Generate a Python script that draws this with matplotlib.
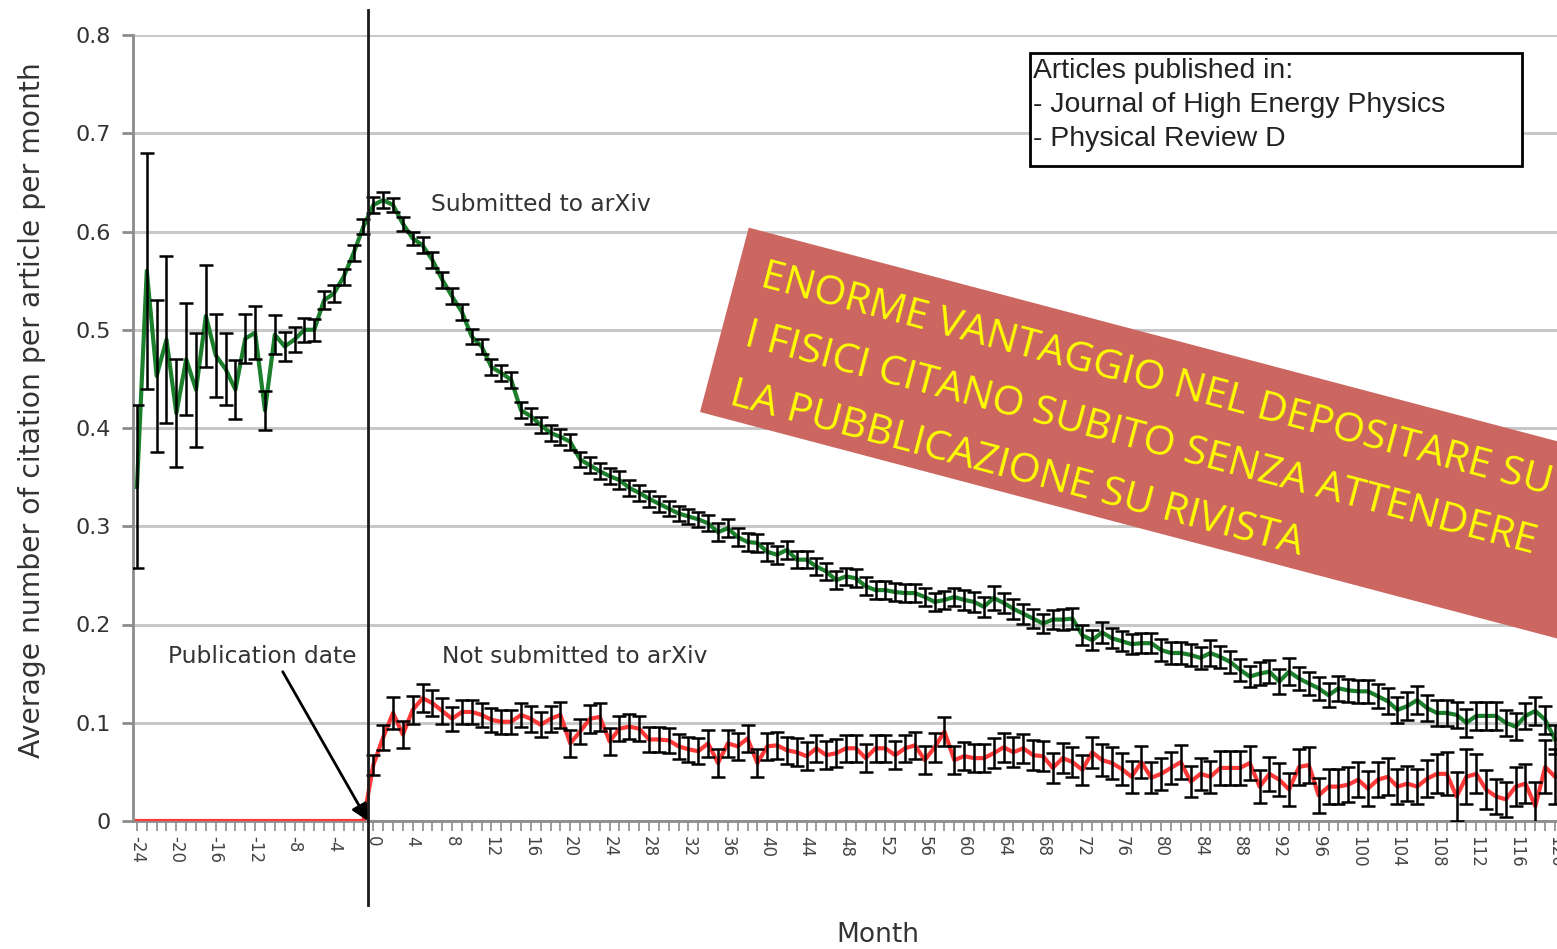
import numpy as np
import matplotlib
matplotlib.use("Agg")
import matplotlib.pyplot as plt
from matplotlib.patches import Rectangle

# months since publication
months = np.arange(-24, 121)
tick_months = list(range(-24, 121, 4))

# submitted to arXiv (green), months -24..-1 and 0..120
green_pre = [0.34, 0.56, 0.453, 0.49, 0.415, 0.47, 0.439, 0.514, 0.474, 0.46,
             0.439, 0.491, 0.497, 0.418, 0.495, 0.483, 0.49, 0.50, 0.50, 0.53,
             0.537, 0.554, 0.578, 0.605]
green_pre_err = [0.083, 0.12, 0.077, 0.085, 0.055, 0.057, 0.058, 0.052, 0.042, 0.037,
                 0.03, 0.025, 0.027, 0.02, 0.02, 0.015, 0.013, 0.012, 0.011, 0.009,
                 0.009, 0.008, 0.008, 0.008]
green_post = [0.627, 0.632, 0.627, 0.608, 0.593, 0.586, 0.571, 0.551, 0.534, 0.518,
              0.493, 0.483, 0.462, 0.456, 0.449, 0.418, 0.412, 0.403, 0.395, 0.391,
              0.386, 0.368, 0.362, 0.356, 0.351, 0.347, 0.339, 0.334, 0.328, 0.323,
              0.318, 0.313, 0.31, 0.307, 0.303, 0.294, 0.298, 0.289, 0.284, 0.283,
              0.274, 0.271, 0.276, 0.266, 0.266, 0.259, 0.254, 0.245, 0.249, 0.247,
              0.239, 0.235, 0.235, 0.233, 0.232, 0.232, 0.228, 0.223, 0.225, 0.228,
              0.225, 0.223, 0.218, 0.227, 0.222, 0.216, 0.211, 0.206, 0.201, 0.205,
              0.205, 0.206, 0.189, 0.184, 0.192, 0.186, 0.183, 0.18, 0.181, 0.181,
              0.174, 0.171, 0.171, 0.169, 0.166, 0.171, 0.167, 0.162, 0.154, 0.147,
              0.15, 0.152, 0.142, 0.152, 0.145, 0.14, 0.135, 0.128, 0.135, 0.133,
              0.132, 0.132, 0.127, 0.122, 0.113, 0.117, 0.123, 0.115, 0.11, 0.11,
              0.108, 0.1, 0.107, 0.107, 0.107, 0.1, 0.096, 0.107, 0.112, 0.103,
              0.083]
green_post_err = [0.008, 0.008, 0.007, 0.007, 0.007, 0.008, 0.008, 0.008, 0.008, 0.008,
                  0.008, 0.008, 0.008, 0.008, 0.008, 0.008, 0.008, 0.008, 0.008, 0.008,
                  0.008, 0.008, 0.008, 0.008, 0.008, 0.009, 0.008, 0.008, 0.008, 0.008,
                  0.008, 0.008, 0.008, 0.008, 0.008, 0.009, 0.009, 0.009, 0.009, 0.009,
                  0.009, 0.009, 0.009, 0.009, 0.009, 0.009, 0.009, 0.009, 0.009, 0.009,
                  0.009, 0.009, 0.009, 0.009, 0.009, 0.009, 0.009, 0.009, 0.009, 0.009,
                  0.01, 0.01, 0.01, 0.012, 0.01, 0.01, 0.01, 0.01, 0.01, 0.01,
                  0.011, 0.011, 0.01, 0.01, 0.011, 0.01, 0.01, 0.01, 0.01, 0.01,
                  0.011, 0.011, 0.011, 0.011, 0.011, 0.013, 0.011, 0.011, 0.011, 0.011,
                  0.012, 0.012, 0.013, 0.014, 0.012, 0.012, 0.012, 0.012, 0.013, 0.012,
                  0.012, 0.012, 0.012, 0.013, 0.013, 0.014, 0.014, 0.013, 0.013, 0.013,
                  0.013, 0.014, 0.014, 0.014, 0.014, 0.013, 0.014, 0.013, 0.014, 0.014,
                  0.015]

# not submitted to arXiv (red): no citations before publication
red_pre = [0.0] * 24
red_post = [0.057, 0.085, 0.11, 0.088, 0.113, 0.125, 0.12, 0.112, 0.104, 0.111,
            0.111, 0.108, 0.103, 0.101, 0.101, 0.108, 0.104, 0.098, 0.104, 0.108,
            0.079, 0.091, 0.104, 0.106, 0.081, 0.094, 0.096, 0.094, 0.083, 0.083,
            0.082, 0.076, 0.073, 0.071, 0.079, 0.059, 0.079, 0.076, 0.084, 0.059,
            0.076, 0.077, 0.072, 0.07, 0.066, 0.074, 0.067, 0.069, 0.074, 0.074,
            0.064, 0.074, 0.074, 0.067, 0.074, 0.077, 0.062, 0.075, 0.091, 0.062,
            0.066, 0.064, 0.064, 0.069, 0.075, 0.07, 0.074, 0.067, 0.066, 0.054,
            0.064, 0.06, 0.052, 0.07, 0.062, 0.059, 0.053, 0.045, 0.06, 0.044,
            0.048, 0.054, 0.06, 0.04, 0.048, 0.045, 0.054, 0.054, 0.054, 0.059,
            0.035, 0.048, 0.042, 0.032, 0.055, 0.057, 0.026, 0.035, 0.035, 0.037,
            0.042, 0.033, 0.042, 0.045, 0.035, 0.038, 0.035, 0.043, 0.048, 0.048,
            0.025, 0.045, 0.048, 0.032, 0.025, 0.022, 0.035, 0.038, 0.015, 0.055,
            0.045]
red_post_err = [0.01, 0.013, 0.016, 0.014, 0.014, 0.014, 0.013, 0.013, 0.012, 0.012,
                0.012, 0.012, 0.012, 0.012, 0.012, 0.012, 0.013, 0.013, 0.013, 0.013,
                0.014, 0.013, 0.014, 0.014, 0.014, 0.013, 0.013, 0.013, 0.013, 0.013,
                0.013, 0.013, 0.013, 0.013, 0.014, 0.014, 0.014, 0.014, 0.014, 0.014,
                0.014, 0.014, 0.014, 0.014, 0.014, 0.014, 0.014, 0.014, 0.014, 0.014,
                0.014, 0.014, 0.014, 0.014, 0.014, 0.014, 0.014, 0.015, 0.015, 0.014,
                0.014, 0.014, 0.014, 0.015, 0.015, 0.015, 0.015, 0.015, 0.015, 0.015,
                0.015, 0.015, 0.015, 0.016, 0.016, 0.016, 0.016, 0.016, 0.016, 0.016,
                0.016, 0.016, 0.017, 0.016, 0.016, 0.016, 0.017, 0.017, 0.017, 0.017,
                0.017, 0.017, 0.017, 0.017, 0.018, 0.018, 0.018, 0.018, 0.018, 0.018,
                0.018, 0.018, 0.018, 0.019, 0.018, 0.018, 0.018, 0.019, 0.02, 0.022,
                0.025, 0.028, 0.02, 0.02, 0.018, 0.018, 0.02, 0.02, 0.025, 0.027,
                0.028]

y_ticks = [0, 0.1, 0.2, 0.3, 0.4, 0.5, 0.6, 0.7, 0.8]
y_tick_labels = ["0", "0.1", "0.2", "0.3", "0.4", "0.5", "0.6", "0.7", "0.8"]

legend_lines = ["Articles published in:",
                "- Journal of High Energy Physics",
                "- Physical Review D"]
banner_lines = ["ENORME VANTAGGIO NEL DEPOSITARE SU",
                "I FISICI CITANO SUBITO SENZA ATTENDERE",
                "LA PUBBLICAZIONE SU RIVISTA"]

green = np.array(green_pre + green_post)
green_err = np.array(green_pre_err + green_post_err)
red = np.array(red_pre + red_post)

W, H = 1557, 949
fig = plt.figure(figsize=(W / 100, H / 100), dpi=100)
ax = fig.add_axes([133 / W, 1 - 821 / H, 1 - 133 / W, (821 - 35) / H])

grey = "#8c8c8c"
txt = "#333333"

# series
ax.plot(months, red, color="#ff3838", lw=3, zorder=3)
ax.errorbar(months[24:], red_post, yerr=red_post_err, fmt="none", ecolor="black",
            elinewidth=1.8, capsize=5.3, capthick=1.8, zorder=4)
ax.plot(months, green, color="#1b7f2c", lw=3, zorder=3)
ax.errorbar(months, green, yerr=green_err, fmt="none", ecolor="black",
            elinewidth=1.8, capsize=5.3, capthick=1.8, zorder=4)

ax.set_xlim(-24.4, 120.2)
ax.set_ylim(0, 0.8)
for s in ["top", "right"]:
    ax.spines[s].set_visible(False)
for s in ["left", "bottom"]:
    ax.spines[s].set_color(grey)
    ax.spines[s].set_linewidth(2)

ax.yaxis.grid(True, color="#c8c8c8", lw=2.2)
ax.set_axisbelow(True)
ax.set_yticks(y_ticks)
ax.set_yticklabels(y_tick_labels, fontsize=16, color=txt)
ax.tick_params(axis="y", length=8, width=2, color=grey, pad=8)

ax.set_xticks(tick_months)
ax.set_xticklabels([str(m) for m in tick_months], rotation=-90, fontsize=12, color="#444444")
ax.set_xticks(months, minor=True)
ax.tick_params(axis="x", which="both", length=7, width=1.2, color=grey, pad=4)

# publication date marker
ax.axvline(-0.55, ymin=-0.107, ymax=1.032, clip_on=False, color="#1a1a1a", lw=2, zorder=5)
ax.annotate("", xy=(-0.55, 0.0), xytext=(-9.2, 0.152),
            arrowprops=dict(arrowstyle="-|>", color="black", lw=2,
                            mutation_scale=25, shrinkA=0, shrinkB=0), zorder=6)

ax.text(5.9, 0.627, "Submitted to arXiv", fontsize=16.8, va="center", color=txt)
ax.text(7.0, 0.167, "Not submitted to arXiv", fontsize=16.8, va="center", color=txt)
ax.text(-20.85, 0.167, "Publication date", fontsize=16.8, va="center", color=txt)

fig.text(32 / W, 1 - 410 / H, "Average number of citation per article per month",
         rotation=90, ha="center", va="center", fontsize=20.3, color=txt)
fig.text(878 / W, 1 - 935 / H, "Month", ha="center", va="center", fontsize=19, color=txt)

# legend box
fig.add_artist(Rectangle((1030 / 100, (H - 166) / 100), 4.92, 1.13,
                         transform=fig.dpi_scale_trans, facecolor="white",
                         edgecolor="black", lw=2, zorder=8))
for i, line in enumerate(legend_lines):
    fig.text(1033 / W, 1 - (71 + 34 * i) / H, line, ha="left", va="center",
             fontsize=20.4, family="Liberation Sans", color="#222222", zorder=9)

# banner overlay
fig.add_artist(Rectangle((7.00, (H - 412) / 100), 12.0, 1.907, angle=-14.8,
                         transform=fig.dpi_scale_trans, facecolor="#cc6660",
                         edgecolor="none", zorder=10))
for i, line in enumerate(banner_lines):
    x0 = 758.9 - 15.6 * i
    y0 = 286.3 + 59.0 * i
    fig.text(x0 / W, 1 - y0 / H, line, rotation=-14.8, rotation_mode="anchor",
             ha="left", va="baseline", fontsize=29.7, family="Open Sans",
             color="#ffff00", zorder=11)

fig.savefig("out.png", dpi=100)
